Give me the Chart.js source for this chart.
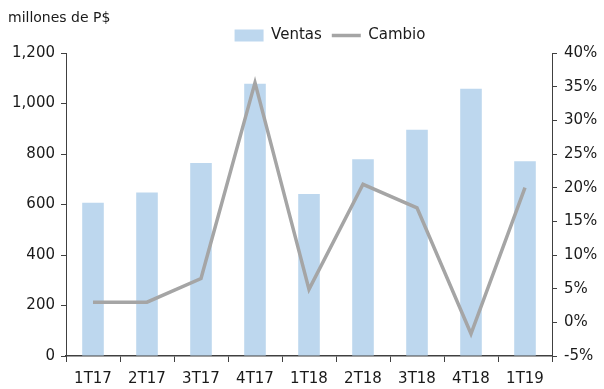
<!DOCTYPE html>
<html>
<head>
<meta charset="utf-8">
<script src="https://cdn.jsdelivr.net/npm/chart.js@4.4.0/dist/chart.umd.min.js"></script>
<style>
html,body{margin:0;padding:0;background:#fff;}
#wrap{width:604px;height:389px;position:relative;}
</style>
</head>
<body>
<div id="wrap"><canvas id="c" width="604" height="389"></canvas></div>
<script>
const categories = ["1T17","2T17","3T17","4T17","1T18","2T18","3T18","4T18","1T19"];
const ventas = [607, 648, 764, 1078, 642, 779, 896, 1058, 771];
const cambio = [3.0, 3.0, 6.5, 35.6, 4.9, 20.5, 17.0, -1.7, 20.0];
const leftTicks = [0, 200, 400, 600, 800, 1000, 1200];
const rightTicks = [-5, 0, 5, 10, 15, 20, 25, 30, 35, 40];
const unitLabel = "millones de P$";

const FONT = "'DejaVu Sans', Verdana, sans-serif";
const TXT = "#1a1a1a";
const AX = "#404040";

const unitPlugin = {
  id: 'unitLabel',
  afterLayout(chart) {
    if (chart.legend) { chart.legend.left += 28; chart.legend.right += 28; }
  },
  afterDraw(chart) {
    const ctx = chart.ctx;
    ctx.save();
    ctx.font = "14px " + FONT;
    ctx.fillStyle = TXT;
    ctx.textBaseline = 'middle';
    ctx.textAlign = 'left';
    ctx.fillText(unitLabel, 8, 18);
    ctx.restore();
  }
};

new Chart(document.getElementById('c'), {
  data: {
    labels: categories,
    datasets: [
      {
        type: 'bar', label: 'Ventas', data: ventas, yAxisID: 'y',
        backgroundColor: '#BDD7EE', borderWidth: 0,
        barPercentage: 0.4, categoryPercentage: 1.0, order: 2
      },
      {
        type: 'line', label: 'Cambio', data: cambio, yAxisID: 'y1',
        borderColor: '#A5A5A5', borderWidth: 3.5, pointRadius: 0,
        tension: 0, fill: false, order: 1
      }
    ]
  },
  options: {
    responsive: false,
    animation: false,
    devicePixelRatio: 1,
    layout: { padding: { top: 18, left: 0, right: 0, bottom: 0 } },
    plugins: {
      tooltip: { enabled: false },
      legend: {
        position: 'top',
        labels: {
          font: { family: FONT, size: 15 },
          color: TXT,
          usePointStyle: true,
          pointStyleWidth: 29,
          boxHeight: 12,
          padding: 10,
          generateLabels(chart) {
            return chart.data.datasets.map((d, i) => ({
              text: d.label,
              fillStyle: d.type === 'bar' ? '#BDD7EE' : '#A5A5A5',
              strokeStyle: d.type === 'bar' ? '#BDD7EE' : '#A5A5A5',
              lineWidth: d.type === 'bar' ? 0 : 3.5,
              pointStyle: d.type === 'bar' ? 'rect' : 'line',
              fontColor: TXT,
              hidden: false,
              datasetIndex: i
            }));
          }
        }
      }
    },
    scales: {
      x: {
        offset: true,
        grid: { offset: true, drawOnChartArea: false, drawTicks: true, tickLength: 6, color: AX, lineWidth: 1 },
        border: { color: AX, width: 1.5 },
        ticks: { font: { family: FONT, size: 15 }, color: TXT, padding: 8, maxRotation: 0 },
        afterFit(s) { s.height = 33; }
      },
      y: {
        position: 'left', min: 0, max: 1200,
        afterBuildTicks(s) { s.ticks = leftTicks.map(v => ({ value: v })); },
        grid: { drawOnChartArea: false, drawTicks: true, tickLength: 5, color: AX },
        border: { color: AX, width: 1 },
        ticks: {
          font: { family: FONT, size: 15 }, color: TXT, padding: 6,
          callback: v => v.toLocaleString('en-US')
        },
        afterFit(s) { s.width = 66; }
      },
      y1: {
        position: 'right', min: -5, max: 40,
        afterBuildTicks(s) { s.ticks = rightTicks.map(v => ({ value: v })); },
        grid: { drawOnChartArea: false, drawTicks: true, tickLength: 5, color: AX },
        border: { color: AX, width: 1 },
        ticks: {
          font: { family: FONT, size: 15 }, color: TXT, padding: 7,
          callback: v => v + '%'
        },
        afterFit(s) { s.width = 52; }
      }
    }
  },
  plugins: [unitPlugin]
});
</script>
</body>
</html>
